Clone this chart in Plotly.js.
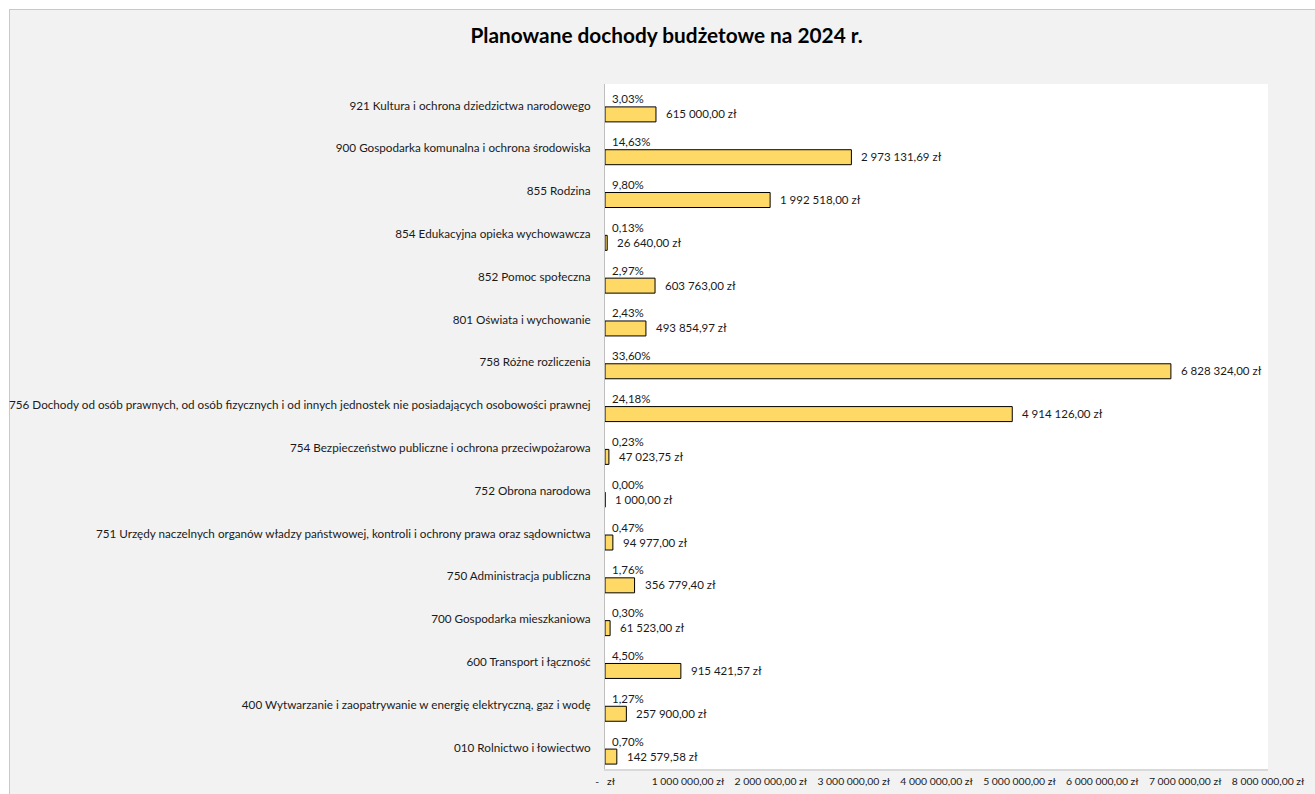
<!DOCTYPE html>
<html>
<head>
<meta charset="utf-8">
<script src="https://cdn.plot.ly/plotly-3.0.1.min.js"></script>
<style>
  html, body { margin: 0; padding: 0; background: #ffffff; overflow: hidden; }
  #chart { position: absolute; left: 9px; top: 9px; width: 1310px; height: 790px; border-left: 1px solid #c9c9c9; border-top: 1px solid #c9c9c9; }
  #chart svg.main-svg { overflow: visible !important; }
</style>
</head>
<body>
<div id="chart"></div>
<script>
// Categories listed bottom to top (as drawn)
const categories = [
  "010 Rolnictwo i łowiectwo",
  "400 Wytwarzanie i zaopatrywanie w energię elektryczną, gaz i wodę",
  "600 Transport i łączność",
  "700 Gospodarka mieszkaniowa",
  "750 Administracja publiczna",
  "751 Urzędy naczelnych organów władzy państwowej, kontroli i ochrony prawa oraz sądownictwa",
  "752 Obrona narodowa",
  "754 Bezpieczeństwo publiczne i ochrona przeciwpożarowa",
  "756 Dochody od osób prawnych, od osób fizycznych i od innych jednostek nie posiadających osobowości prawnej",
  "758 Różne rozliczenia",
  "801 Oświata i wychowanie",
  "852 Pomoc społeczna",
  "854 Edukacyjna opieka wychowawcza",
  "855 Rodzina",
  "900 Gospodarka komunalna i ochrona środowiska",
  "921 Kultura i ochrona dziedzictwa narodowego"
];
const amounts = [
  142579.58, 257900.00, 915421.57, 61523.00, 356779.40, 94977.00, 1000.00, 47023.75,
  4914126.00, 6828324.00, 493854.97, 603763.00, 26640.00, 1992518.00, 2973131.69, 615000.00
];
const shares = [
  0.70, 1.27, 4.50, 0.30, 1.76, 0.47, 0.00, 0.23,
  24.18, 33.60, 2.43, 2.97, 0.13, 9.80, 14.63, 3.03
];
const tickValues = [0, 1000000, 2000000, 3000000, 4000000, 5000000, 6000000, 7000000, 8000000];
const tickLabels = ["-\u00a0\u00a0\u00a0zł", "1 000 000,00 zł", "2 000 000,00 zł", "3 000 000,00 zł", "4 000 000,00 zł",
  "5 000 000,00 zł", "6 000 000,00 zł", "7 000 000,00 zł", "8 000 000,00 zł"];
const titleText = "Planowane dochody budżetowe na 2024 r.";

function fmtZl(v) {
  const parts = v.toFixed(2).split(".");
  const intPart = parts[0].replace(/\B(?=(\d{3})+(?!\d))/g, " ");
  return intPart + "," + parts[1] + " zł";
}
function fmtPct(p) { return p.toFixed(2).replace(".", ",") + "%"; }

const FONT = "Lato, 'Open Sans', sans-serif";
const idx = categories.map((_, i) => i);

const trace = {
  type: "bar",
  orientation: "h",
  y: idx,
  x: amounts,
  width: 0.35,
  offset: -0.385,
  marker: { color: "#ffd966", line: { color: "#000000", width: 1 } },
  hoverinfo: "skip"
};

const annotations = [];
categories.forEach((c, i) => {
  annotations.push({
    x: 0, y: i, xref: "x", yref: "y", text: fmtPct(shares[i]),
    xanchor: "left", yanchor: "middle", xshift: 5, yshift: 6.5,
    showarrow: false, font: { family: FONT, size: 11.5, color: "#1a1a1a" }
  });
  annotations.push({
    x: amounts[i], y: i, xref: "x", yref: "y", text: fmtZl(amounts[i]),
    xanchor: "left", yanchor: "middle", xshift: 8, yshift: -8.5,
    showarrow: false, font: { family: FONT, size: 11.5, color: "#1a1a1a" }
  });
});

const layout = {
  width: 1310, height: 790,
  margin: { l: 595, r: 52, t: 74, b: 31, pad: 0 },
  paper_bgcolor: "#f2f2f2",
  plot_bgcolor: "#ffffff",
  showlegend: false,
  title: {
    text: "<b>" + titleText + "</b>",
    font: { family: FONT, size: 20.8, color: "#000000" },
    x: 0.5012, xref: "container", xanchor: "center",
    y: 0.968, yref: "container", yanchor: "middle"
  },
  xaxis: {
    range: [0, 8000000],
    tickvals: tickValues, ticktext: tickLabels,
    showgrid: false, zeroline: false,
    showline: true, linecolor: "#d9d9d9", linewidth: 1.5,
    ticks: "", tickfont: { family: FONT, size: 10.4, color: "#1a1a1a" },
    ticklabelstandoff: 2,
    fixedrange: true
  },
  yaxis: {
    range: [-0.5, categories.length - 0.5],
    tickvals: idx, ticktext: categories,
    showgrid: false, zeroline: false,
    showline: true, linecolor: "#bfbfbf", linewidth: 1,
    ticks: "", tickfont: { family: FONT, size: 11.7, color: "#1a1a1a" },
    ticklabelstandoff: 11,
    fixedrange: true
  },
  annotations: annotations
};

Plotly.newPlot("chart", [trace], layout, { staticPlot: true, displayModeBar: false });
</script>
</body>
</html>
